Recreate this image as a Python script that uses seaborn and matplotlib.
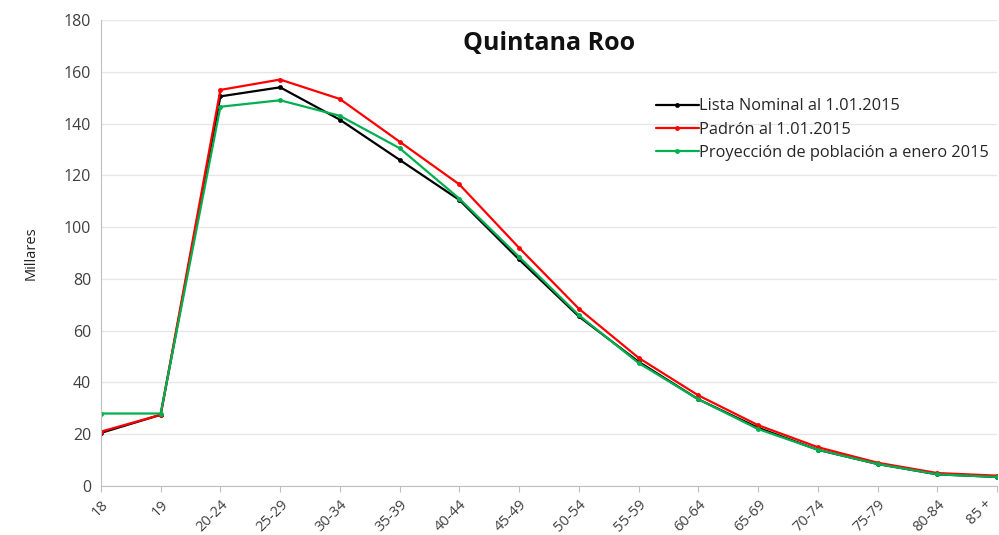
import pandas as pd
import matplotlib.pyplot as plt
import matplotlib.transforms as mtransforms
import seaborn as sns

# -----------------------------
# Data (thousands)
# -----------------------------
edades = ["18", "19", "20-24", "25-29", "30-34", "35-39", "40-44", "45-49",
          "50-54", "55-59", "60-64", "65-69", "70-74", "75-79", "80-84", "85 +"]

lista_nominal = [20.5, 27.5, 150.5, 154, 141.5, 126, 110.5, 87.5,
                 65.5, 48, 33.5, 22.5, 14, 8.5, 4.5, 3.5]
padron = [21, 27.5, 153, 157, 149.5, 133, 116.5, 92,
          68.5, 49.5, 35, 23.5, 15, 9, 5, 4]
proyeccion = [28, 28, 146.5, 149, 143, 130.5, 111, 88.5,
              66, 47.5, 33.5, 22, 14, 8.5, 4.5, 3.5]

series = {
    "Lista Nominal al 1.01.2015": lista_nominal,
    "Padrón al 1.01.2015": padron,
    "Proyección de población a enero 2015": proyeccion,
}
colores = ["#000000", "#ff0000", "#00b050"]

records = []
for name, vals in series.items():
    for i, (edad, v) in enumerate(zip(edades, vals)):
        records.append({"pos": i, "edad": edad, "serie": name, "valor": v})
df = pd.DataFrame(records)

# -----------------------------
# Plot
# -----------------------------
sns.set_style("white")
plt.rcParams["font.family"] = ["Open Sans", "DejaVu Sans"]

fig = plt.figure(figsize=(9.99, 5.35), dpi=100)
ax = fig.add_axes([0.101, 0.0916, 0.897, 0.871])

sns.lineplot(data=df, x="pos", y="valor", hue="serie", palette=colores,
             marker="o", markersize=3.5, markeredgewidth=0, linewidth=1.6,
             ax=ax)

ax.set_xlim(0, len(edades) - 1)
ax.set_ylim(0, 180)
ax.set_yticks(range(0, 181, 20))
ax.set_xticks(range(len(edades)))
ax.set_xticklabels(edades, rotation=45, ha="right", rotation_mode="anchor",
                   fontsize=10.5, color="#404040")
ax.tick_params(axis="y", labelsize=11.5, colors="#404040", length=0, pad=7)
ax.tick_params(axis="x", length=4, color="#bfbfbf", direction="out",
               bottom=True, pad=4)

# keep the last label inside the figure
last = ax.get_xticklabels()[-1]
last.set_transform(last.get_transform() +
                   mtransforms.ScaledTranslation(-12 / 100, 0, fig.dpi_scale_trans))

ax.grid(axis="y", color="#e6e6e6", linewidth=1)
ax.set_axisbelow(True)
for side in ["top", "right"]:
    ax.spines[side].set_visible(False)
for side in ["left", "bottom"]:
    ax.spines[side].set_color("#bfbfbf")

ax.set_xlabel("")
ax.set_ylabel("Millares", fontsize=10.5, color="#202020", labelpad=18)

ax.text(0.5, 0.95, "Quintana Roo", transform=ax.transAxes, ha="center",
        va="center", fontsize=18, fontweight="bold", color="#111111")

ax.legend(loc="upper right", bbox_to_anchor=(0.995, 0.839), frameon=False,
          fontsize=11.8, handlelength=2.6, handletextpad=0.05,
          labelspacing=0.45, borderpad=0.2, borderaxespad=0)

plt.savefig("out.png", dpi=100)
plt.close()
